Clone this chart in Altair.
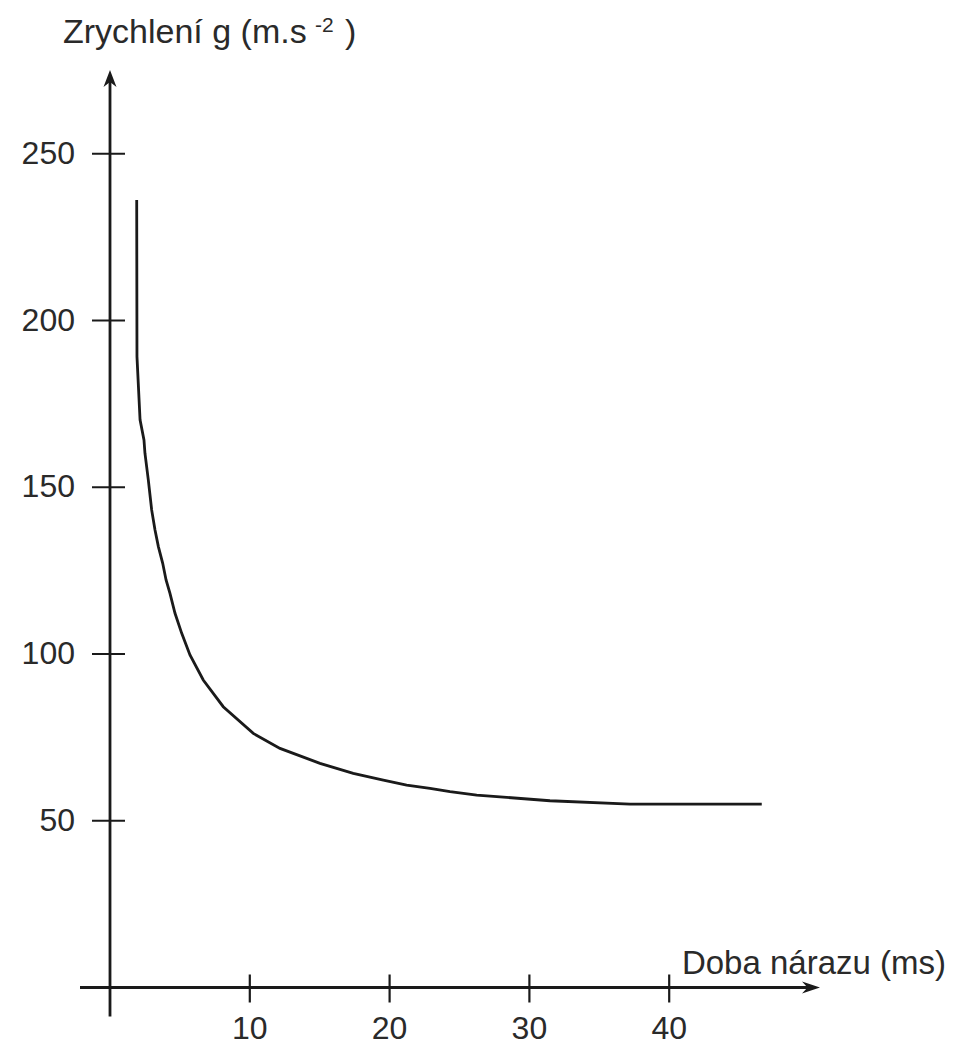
import altair as alt
import pandas as pd

# ---- data ----
impact_time_ms = [1.91, 1.93, 2.15, 2.43, 2.50, 2.74, 2.98, 3.22, 3.46, 3.77, 4.01, 4.29, 4.65,
                  5.13, 5.72, 6.67, 8.10, 10.25, 12.16, 15.02, 17.40, 19.55, 21.22, 22.89,
                  24.32, 26.23, 28.38, 31.47, 37.20, 46.62]
acceleration_g = [236.1, 189.1, 170.2, 164.2, 160.2, 152.2, 143.2, 137.2, 132.2, 127.2, 122.2,
                  118.2, 112.2, 106.2, 99.7, 92.2, 84.2, 76.2, 71.7, 67.2, 64.2, 62.2, 60.7,
                  59.7, 58.7, 57.7, 57.0, 56.0, 55.0, 55.0]
x_tick_values = [10, 20, 30, 40]
y_tick_values = [50, 100, 150, 200, 250]
y_title_main = "Zrychlení g (m.s"
y_title_sup = "-2"
y_title_close = ")"
x_title = "Doba nárazu (ms)"

# ---- layout ----
W, H = 940, 1040
X0, PXMS = 102.0, 13.98      # plot-x of t=0, pixels per ms
Y0, PXG = 979.5, 3.335       # plot-y of g=0, pixels per unit
x_dom = [(0 - X0) / PXMS, (W - X0) / PXMS]
y_dom = [(Y0 - H) / PXG, (Y0 - 0) / PXG]

xs = alt.Scale(domain=x_dom, nice=False, zero=False)
ys = alt.Scale(domain=y_dom, nice=False, zero=False)

INK = "#1a1a1a"
TXT = "#2a2a2a"
FONT = "Liberation Sans"

curve_df = pd.DataFrame({"t": impact_time_ms, "g": acceleration_g})
xt_df = pd.DataFrame({"t": x_tick_values, "lab": [str(v) for v in x_tick_values]})
yt_df = pd.DataFrame({"g": y_tick_values, "lab": [str(v) for v in y_tick_values]})
one = pd.DataFrame({"k": [0]})

curve = alt.Chart(curve_df).mark_line(color=INK, strokeWidth=2.8).encode(
    x=alt.X("t:Q", scale=xs, axis=None),
    y=alt.Y("g:Q", scale=ys, axis=None),
)

x_axis_line = alt.Chart(one).mark_rule(color=INK, strokeWidth=2.8).encode(
    x=alt.value(X0 - 30), x2=alt.value(X0 + 700), y=alt.datum(0, scale=ys)
)
y_axis_line = alt.Chart(one).mark_rule(color=INK, strokeWidth=2.8).encode(
    y=alt.value(70), y2=alt.value(Y0 + 29), x=alt.datum(0, scale=xs)
)

x_arrow = alt.Chart(one).mark_point(
    shape="M0,0 L-1.8,-0.6 L-1.25,0 L-1.8,0.6 Z", filled=True, color=INK, size=400, opacity=1
).encode(x=alt.value(X0 + 710), y=alt.datum(0, scale=ys))
y_arrow = alt.Chart(one).mark_point(
    shape="M0,0 L-0.65,1.7 L0,1.2 L0.65,1.7 Z", filled=True, color=INK, size=400, opacity=1
).encode(y=alt.value(62), x=alt.datum(0, scale=xs))

x_ticks = alt.Chart(xt_df).mark_rule(color=INK, strokeWidth=2.2).encode(
    x=alt.X("t:Q", scale=xs), y=alt.value(Y0 - 13), y2=alt.value(Y0 + 15)
)
y_ticks = alt.Chart(yt_df).mark_rule(color=INK, strokeWidth=2.2).encode(
    y=alt.Y("g:Q", scale=ys), x=alt.value(X0 - 18), x2=alt.value(X0 + 15)
)

x_labels = alt.Chart(xt_df).mark_text(
    font=FONT, fontSize=32, color=TXT, align="center", baseline="bottom"
).encode(x=alt.X("t:Q", scale=xs), y=alt.value(H - 2), text="lab:N")
y_labels = alt.Chart(yt_df).mark_text(
    font=FONT, fontSize=32, color=TXT, align="right", baseline="middle"
).encode(y=alt.Y("g:Q", scale=ys), x=alt.value(X0 - 35), text="lab:N")

title_main = alt.Chart(one).mark_text(
    font=FONT, fontSize=34, color=TXT, align="left", baseline="alphabetic", text=y_title_main
).encode(x=alt.value(55), y=alt.value(35))
title_sup = alt.Chart(one).mark_text(
    font=FONT, fontSize=21, color=TXT, align="left", baseline="alphabetic", text=y_title_sup
).encode(x=alt.value(307), y=alt.value(24))
title_close = alt.Chart(one).mark_text(
    font=FONT, fontSize=34, color=TXT, align="left", baseline="alphabetic", text=y_title_close
).encode(x=alt.value(337), y=alt.value(35))
xtitle = alt.Chart(one).mark_text(
    font=FONT, fontSize=33, color=TXT, align="right", baseline="alphabetic", text=x_title
).encode(x=alt.value(938), y=alt.value(966))

chart = alt.layer(
    curve, x_axis_line, y_axis_line, x_arrow, y_arrow, x_ticks, y_ticks,
    x_labels, y_labels, title_main, title_sup, title_close, xtitle
).properties(
    width=W, height=H, padding=0, background="white",
    autosize=alt.AutoSizeParams(type="none"),
).configure_view(stroke=None)

chart.save("out.html", embed_options={"renderer": "svg", "actions": False})
